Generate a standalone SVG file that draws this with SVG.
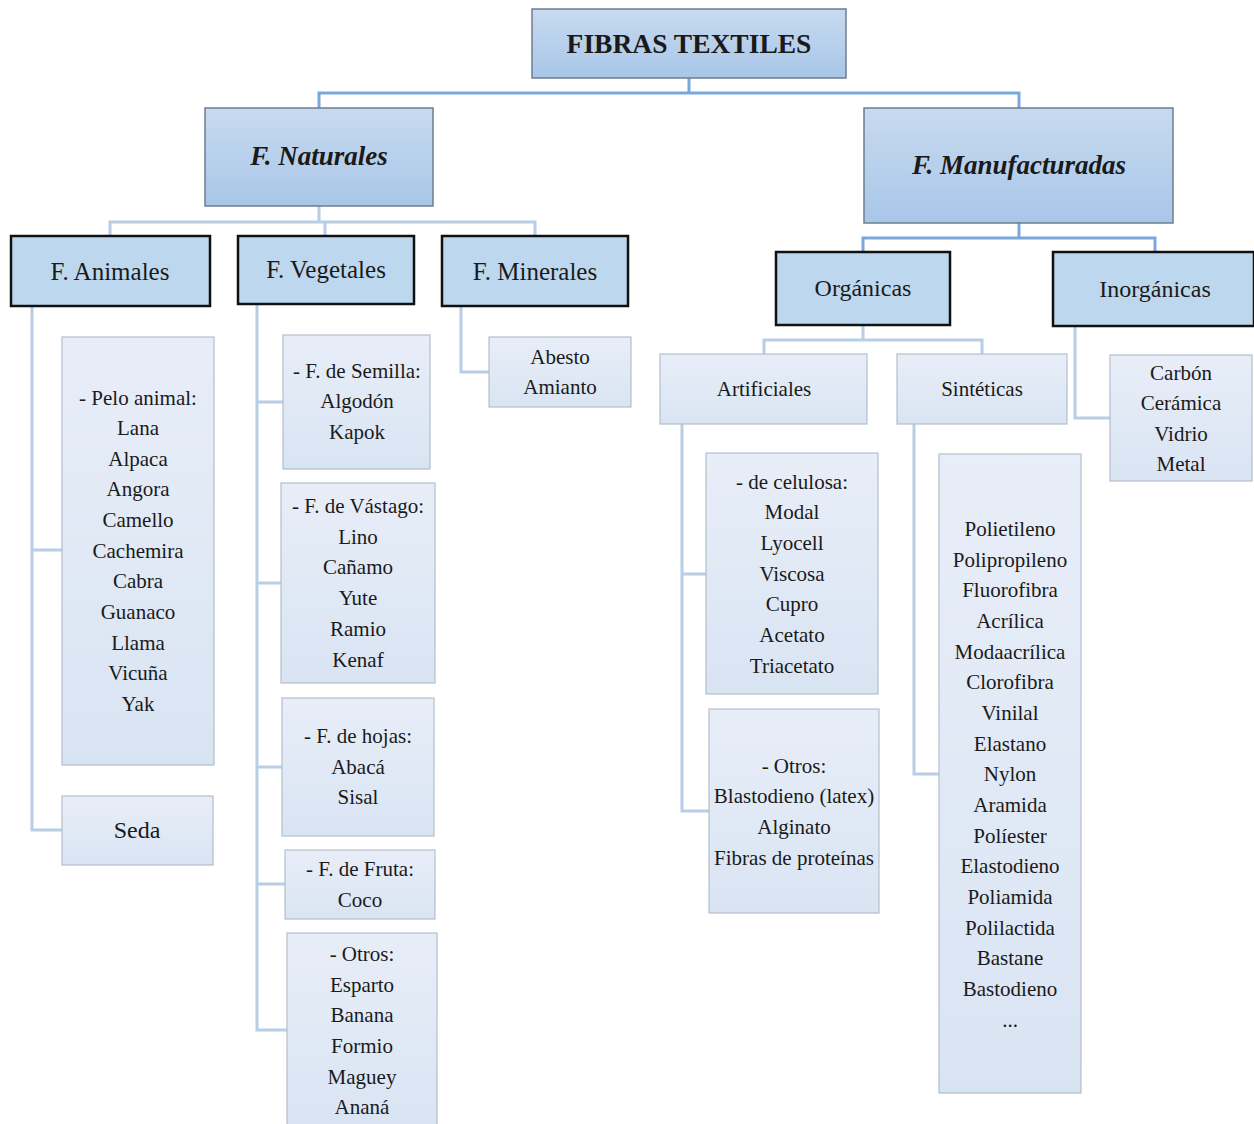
<svg xmlns="http://www.w3.org/2000/svg" width="1254" height="1124" viewBox="0 0 1254 1124">
<defs>
<linearGradient id="gTop" x1="0" y1="0" x2="0" y2="1"><stop offset="0" stop-color="#c8daef"/><stop offset="1" stop-color="#a8c6e8"/></linearGradient>
<linearGradient id="gLeaf" x1="0" y1="0" x2="0" y2="1"><stop offset="0" stop-color="#e8eef8"/><stop offset="1" stop-color="#d9e4f3"/></linearGradient>
</defs>
<style>
.top{fill:url(#gTop);stroke:#6d7d8f;stroke-width:1.5}
.mid{fill:#bdd7ee;stroke:#111;stroke-width:2.5}
.leaf{fill:url(#gLeaf);stroke:#b5bfca;stroke-width:1.2}
.c1{fill:none;stroke:#78a8dc;stroke-width:3}
.c2{fill:none;stroke:#b8cde6;stroke-width:3}
text{font-family:"Liberation Serif","Times New Roman",serif;fill:#1a1a1a;text-anchor:middle}
.tb{font-size:27.5px;font-weight:bold}
.tbi{font-size:27px;font-weight:bold;font-style:italic}
.tm{font-size:24px}
.tm2{font-size:25px}
.tl{font-size:21px}
</style>
<g id="connectors">
<path class="c1" d="M689,78V93M319,108V93H1019V108"/>
<path class="c2" d="M319,206V222M110,236V222H535V236M325,222V236"/>
<path class="c1" d="M1019,223V238M863,252V238H1155V252"/>
<path class="c2" d="M32,306V830H62M32,550H62"/>
<path class="c2" d="M257,304V1030H287M257,402H283M257,583H281M257,767H282M257,884H285"/>
<path class="c2" d="M461,306V372H489"/>
<path class="c2" d="M863,325V340M764,354V340H982V354"/>
<path class="c2" d="M1075,326V418H1110"/>
<path class="c2" d="M682,424V811H709M682,574H706"/>
<path class="c2" d="M914,424V774H939"/>
</g>
<g id="n-fibras"><rect class="top" x="532" y="9" width="314" height="69"/><text class="tb" x="689" y="53">FIBRAS TEXTILES</text></g>
<g id="n-naturales"><rect class="top" x="205" y="108" width="228" height="98"/><text class="tbi" x="319" y="165">F. Naturales</text></g>
<g id="n-manuf"><rect class="top" x="864" y="108" width="309" height="115"/><text class="tbi" x="1019" y="174">F. Manufacturadas</text></g>
<g id="n-animales"><rect class="mid" x="11" y="236" width="199" height="70"/><text class="tm2" x="110" y="280">F. Animales</text></g>
<g id="n-vegetales"><rect class="mid" x="238" y="236" width="176" height="68"/><text class="tm2" x="326" y="278">F. Vegetales</text></g>
<g id="n-minerales"><rect class="mid" x="442" y="236" width="186" height="70"/><text class="tm2" x="535" y="280">F. Minerales</text></g>
<g id="n-organicas"><rect class="mid" x="776" y="252" width="174" height="73"/><text class="tm" x="863" y="296">Orgánicas</text></g>
<g id="n-inorganicas"><rect class="mid" x="1053" y="252" width="201" height="74"/><text class="tm" x="1155" y="297">Inorgánicas</text></g>
<g id="n-pelo"><rect class="leaf" x="62" y="337" width="152" height="428"/>
<text class="tl" x="138"><tspan x="138" y="405">- Pelo animal:</tspan><tspan x="138" y="435">Lana</tspan><tspan x="138" y="466">Alpaca</tspan><tspan x="138" y="496">Angora</tspan><tspan x="138" y="527">Camello</tspan><tspan x="138" y="558">Cachemira</tspan><tspan x="138" y="588">Cabra</tspan><tspan x="138" y="619">Guanaco</tspan><tspan x="138" y="650">Llama</tspan><tspan x="138" y="680">Vicuña</tspan><tspan x="138" y="711">Yak</tspan></text></g>
<g id="n-seda"><rect class="leaf" x="62" y="796" width="151" height="69"/><text class="tm" x="137" y="838">Seda</text></g>
<g id="n-semilla"><rect class="leaf" x="283" y="335" width="147" height="134"/>
<text class="tl"><tspan x="357" y="378">- F. de Semilla:</tspan><tspan x="357" y="408">Algodón</tspan><tspan x="357" y="439">Kapok</tspan></text></g>
<g id="n-vastago"><rect class="leaf" x="281" y="483" width="154" height="200"/>
<text class="tl"><tspan x="358" y="513">- F. de Vástago:</tspan><tspan x="358" y="544">Lino</tspan><tspan x="358" y="574">Cañamo</tspan><tspan x="358" y="605">Yute</tspan><tspan x="358" y="636">Ramio</tspan><tspan x="358" y="667">Kenaf</tspan></text></g>
<g id="n-hojas"><rect class="leaf" x="282" y="698" width="152" height="138"/>
<text class="tl"><tspan x="358" y="743">- F. de hojas:</tspan><tspan x="358" y="774">Abacá</tspan><tspan x="358" y="804">Sisal</tspan></text></g>
<g id="n-fruta"><rect class="leaf" x="285" y="850" width="150" height="69"/>
<text class="tl"><tspan x="360" y="876">- F. de Fruta:</tspan><tspan x="360" y="907">Coco</tspan></text></g>
<g id="n-otrosveg"><rect class="leaf" x="287" y="933" width="150" height="195"/>
<text class="tl"><tspan x="362" y="961">- Otros:</tspan><tspan x="362" y="992">Esparto</tspan><tspan x="362" y="1022">Banana</tspan><tspan x="362" y="1053">Formio</tspan><tspan x="362" y="1084">Maguey</tspan><tspan x="362" y="1114">Ananá</tspan></text></g>
<g id="n-abesto"><rect class="leaf" x="489" y="337" width="142" height="70"/>
<text class="tl"><tspan x="560" y="364">Abesto</tspan><tspan x="560" y="394">Amianto</tspan></text></g>
<g id="n-artificiales"><rect class="leaf" x="660" y="354" width="207" height="70"/><text class="tl" x="764" y="396">Artificiales</text></g>
<g id="n-sinteticas"><rect class="leaf" x="897" y="354" width="170" height="70"/><text class="tl" x="982" y="396">Sintéticas</text></g>
<g id="n-carbon"><rect class="leaf" x="1110" y="355" width="142" height="126"/>
<text class="tl"><tspan x="1181" y="380">Carbón</tspan><tspan x="1181" y="410">Cerámica</tspan><tspan x="1181" y="441">Vidrio</tspan><tspan x="1181" y="471">Metal</tspan></text></g>
<g id="n-celulosa"><rect class="leaf" x="706" y="453" width="172" height="241"/>
<text class="tl"><tspan x="792" y="489">- de celulosa:</tspan><tspan x="792" y="519">Modal</tspan><tspan x="792" y="550">Lyocell</tspan><tspan x="792" y="581">Viscosa</tspan><tspan x="792" y="611">Cupro</tspan><tspan x="792" y="642">Acetato</tspan><tspan x="792" y="673">Triacetato</tspan></text></g>
<g id="n-otrosart"><rect class="leaf" x="709" y="709" width="170" height="204"/>
<text class="tl"><tspan x="794" y="773">- Otros:</tspan><tspan x="794" y="803">Blastodieno (latex)</tspan><tspan x="794" y="834">Alginato</tspan><tspan x="794" y="865">Fibras de proteínas</tspan></text></g>
<g id="n-sintlist"><rect class="leaf" x="939" y="454" width="142" height="639"/>
<text class="tl"><tspan x="1010" y="536">Polietileno</tspan><tspan x="1010" y="567">Polipropileno</tspan><tspan x="1010" y="597">Fluorofibra</tspan><tspan x="1010" y="628">Acrílica</tspan><tspan x="1010" y="659">Modaacrílica</tspan><tspan x="1010" y="689">Clorofibra</tspan><tspan x="1010" y="720">Vinilal</tspan><tspan x="1010" y="751">Elastano</tspan><tspan x="1010" y="781">Nylon</tspan><tspan x="1010" y="812">Aramida</tspan><tspan x="1010" y="843">Políester</tspan><tspan x="1010" y="873">Elastodieno</tspan><tspan x="1010" y="904">Poliamida</tspan><tspan x="1010" y="935">Polilactida</tspan><tspan x="1010" y="965">Bastane</tspan><tspan x="1010" y="996">Bastodieno</tspan><tspan x="1010" y="1027">...</tspan></text></g>
</svg>
